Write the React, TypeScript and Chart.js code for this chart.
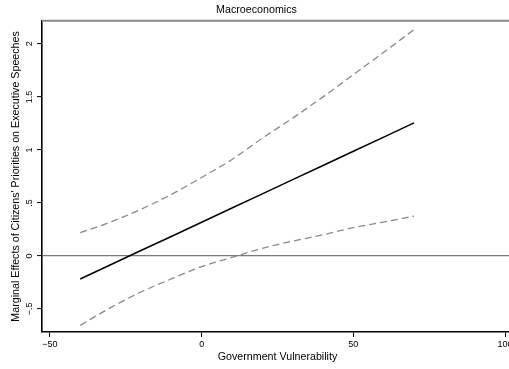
import { useEffect, useRef } from "react";
import { Chart, registerables } from "chart.js";

Chart.register(...registerables);

// Government Vulnerability values at which the marginal effect is evaluated
const xValues = [-40, -30, -20, -10, 0, 10, 20, 30, 40, 50, 60, 70];
// Marginal effect (solid line)
const effect = [-0.217, -0.083, 0.051, 0.184, 0.318, 0.452, 0.586, 0.72, 0.853, 0.987, 1.121, 1.255];
// Upper / lower confidence bounds (dashed lines)
const upperCI = [0.22, 0.32, 0.44, 0.58, 0.74, 0.91, 1.11, 1.3, 1.5, 1.71, 1.92, 2.135];
const lowerCI = [-0.654, -0.487, -0.34, -0.217, -0.1, -0.014, 0.072, 0.14, 0.2, 0.267, 0.32, 0.375];

const xTicks = [-50, 0, 50, 100];
const xTickLabels = ["\u221250", "0", "50", "100"];
const yTicks = [-0.5, 0, 0.5, 1, 1.5, 2];
const yTickLabels = ["\u2212.5", "0", ".5", "1", "1.5", "2"];

const chartTitle = "Macroeconomics";
const xTitle = "Government Vulnerability";
const yTitle = "Marginal Effects of Citizens' Priorities on Executive Speeches";

const FONT = "'Liberation Sans', Arial, Helvetica, sans-serif";

const topBorder = {
  id: "topBorder",
  afterDraw(chart: any) {
    const { ctx, chartArea } = chart;
    ctx.save();
    ctx.strokeStyle = "#8a8a8a";
    ctx.lineWidth = 2;
    ctx.beginPath();
    ctx.moveTo(chartArea.left, chartArea.top);
    ctx.lineTo(chartArea.right + 20, chartArea.top);
    ctx.stroke();
    ctx.restore();
  },
};

export default function App() {
  const ref = useRef<HTMLCanvasElement | null>(null);

  useEffect(() => {
    if (!ref.current) return;
    const toPts = (ys: number[]) => xValues.map((x, i) => ({ x, y: ys[i] }));
    const chart = new Chart(ref.current, {
      type: "line",
      data: {
        datasets: [
          {
            label: "Marginal effect",
            data: toPts(effect),
            borderColor: "#000000",
            borderWidth: 1.5,
            pointRadius: 0,
            tension: 0,
            order: 0,
          },
          {
            label: "Upper bound",
            data: toPts(upperCI),
            borderColor: "#8a8a8a",
            borderWidth: 1.3,
            borderDash: [7, 4],
            pointRadius: 0,
            cubicInterpolationMode: "monotone",
            order: 1,
          },
          {
            label: "Lower bound",
            data: toPts(lowerCI),
            borderColor: "#8a8a8a",
            borderWidth: 1.3,
            borderDash: [7, 4],
            pointRadius: 0,
            cubicInterpolationMode: "monotone",
            order: 1,
          },
        ],
      },
      options: {
        responsive: false,
        animation: false,
        events: [],
        layout: { padding: { left: 0, right: 17, top: 0, bottom: 0 } },
        plugins: {
          legend: { display: false },
          tooltip: { enabled: false },
          title: {
            display: true,
            text: chartTitle,
            color: "#000",
            font: { family: FONT, size: 10.7, weight: "normal", lineHeight: 1.2 },
            padding: { top: 4, bottom: 4 },
          },
        },
        scales: {
          x: {
            type: "linear",
            min: -52.6,
            max: 102.6,
            afterBuildTicks: (scale: any) => {
              scale.ticks = xTicks.map((v) => ({ value: v }));
            },
            afterFit: (scale: any) => {
              scale.height = 37;
            },
            ticks: {
              color: "#000",
              font: { family: FONT, size: 9 },
              padding: 2,
              maxRotation: 0,
              autoSkip: false,
              callback: (v: any) => {
                const i = xTicks.indexOf(Number(v));
                return i >= 0 ? xTickLabels[i] : "";
              },
            },
            grid: {
              color: "rgba(0,0,0,0)",
              drawOnChartArea: false,
              tickColor: "#000",
              tickLength: 5,
              tickWidth: 1,
            },
            border: { color: "#000", width: 1.6 },
            title: {
              display: true,
              text: xTitle,
              color: "#000",
              font: { family: FONT, size: 10.7 },
              padding: { top: 0, bottom: 6 },
            },
          },
          y: {
            type: "linear",
            min: -0.717,
            max: 2.217,
            afterBuildTicks: (scale: any) => {
              scale.ticks = yTicks.map((v) => ({ value: v }));
            },
            afterFit: (scale: any) => {
              scale.width = 42;
            },
            ticks: {
              color: "#000",
              font: { family: FONT, size: 9 },
              padding: 1,
              minRotation: 90,
              maxRotation: 90,
              crossAlign: "center",
              autoSkip: false,
              callback: (v: any) => {
                const i = yTicks.indexOf(Number(v));
                return i >= 0 ? yTickLabels[i] : "";
              },
            },
            grid: {
              color: (ctx: any) => (ctx.tick && ctx.tick.value === 0 ? "#7a7a7a" : "rgba(0,0,0,0)"),
              lineWidth: 1.2,
              tickColor: "#000",
              tickLength: 5,
              tickWidth: 1,
            },
            border: { color: "#000", width: 1.6 },
            title: {
              display: true,
              text: yTitle,
              color: "#000",
              font: { family: FONT, size: 10.7 },
              padding: { top: 10, bottom: 0 },
            },
          },
        },
      },
      plugins: [topBorder],
    });
    return () => chart.destroy();
  }, []);

  return (
    <div
      style={{
        position: "fixed",
        left: 0,
        top: 0,
        width: 509,
        height: 369,
        overflow: "hidden",
        background: "#fff",
      }}
    >
      <canvas ref={ref} width={530} height={369} style={{ display: "block" }} />
    </div>
  );
}
